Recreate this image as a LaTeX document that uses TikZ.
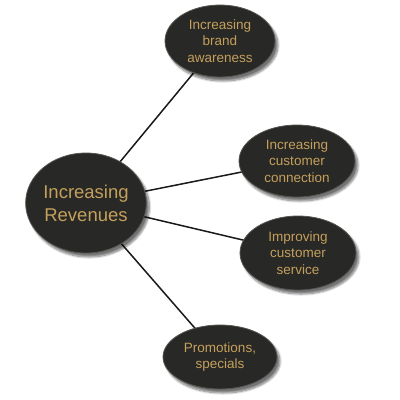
\documentclass[tikz,border=0pt]{standalone}
\usepackage{fontspec}
\setmainfont{Liberation Sans}
\usetikzlibrary{shapes.geometric,shadows.blur,backgrounds}
\definecolor{bubblefill}{RGB}{40,40,38}
\definecolor{rim}{RGB}{85,85,82}
\definecolor{gold}{RGB}{196,160,92}
\begin{document}
\begin{tikzpicture}[x=1pt,y=-1pt,
  bubble/.style={ellipse, fill=bubblefill, draw=rim, line width=0.8pt, inner sep=0pt, outer sep=0pt,
    text=gold, align=center,
    blur shadow={shadow xshift=3pt, shadow yshift=-4pt, shadow blur steps=8, shadow opacity=55},
    font=\fontsize{13.5}{16.5}\selectfont},
  link/.style={draw=black!90, line width=1.5pt}]
\useasboundingbox (0,0) rectangle (400,400);
\node[bubble, minimum width=116pt, minimum height=100pt, font=\fontsize{18.5}{23}\selectfont] (c) at (86,203) {Increasing\\Revenues};
\node[bubble, minimum width=110pt, minimum height=72pt] (t) at (220,41) {Increasing\\brand\\awareness};
\node[bubble, minimum width=116pt, minimum height=72pt] (r1) at (297,161) {Increasing\\customer\\connection};
\node[bubble, minimum width=116pt, minimum height=74pt] (r2) at (298,253) {Improving\\customer\\service};
\node[bubble, minimum width=114pt, minimum height=64pt] (b) at (220,357) {Promotions,\\specials};
\begin{scope}[on background layer]
\draw[link] (c.center) -- (t.center);
\draw[link] (c.center) -- (r1.center);
\draw[link] (c.center) -- (r2.center);
\draw[link] (c.center) -- (b.center);
\end{scope}
\end{tikzpicture}
\end{document}
